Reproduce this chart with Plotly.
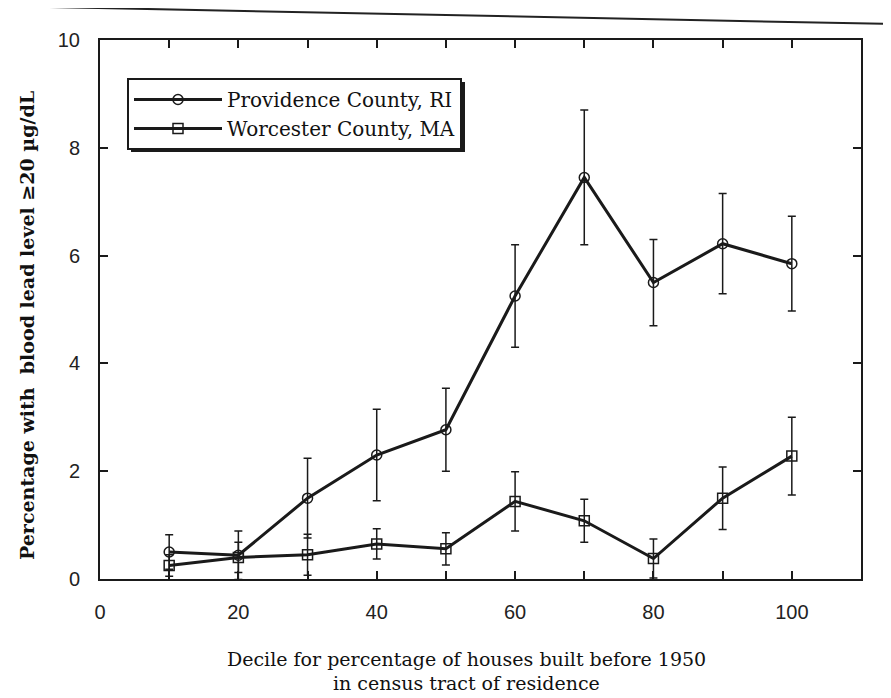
import plotly.graph_objects as go

deciles = [10, 20, 30, 40, 50, 60, 70, 80, 90, 100]
providence = [0.50, 0.44, 1.50, 2.30, 2.77, 5.25, 7.45, 5.50, 6.22, 5.85]
providence_err = [0.32, 0.45, 0.74, 0.85, 0.77, 0.95, 1.25, 0.80, 0.93, 0.88]
worcester = [0.25, 0.40, 0.45, 0.65, 0.56, 1.44, 1.08, 0.38, 1.50, 2.28]
worcester_err = [0.20, 0.28, 0.38, 0.28, 0.30, 0.55, 0.40, 0.36, 0.58, 0.72]
x_tick_vals = [0, 10, 20, 30, 40, 50, 60, 70, 80, 90, 100]
x_tick_text = ["0", "", "20", "", "40", "", "60", "", "80", "", "100"]
y_tick_vals = [0, 2, 4, 6, 8, 10]

serif = "DejaVu Serif, serif"
sans = "Liberation Sans, Arial, sans-serif"
ink = "#1a1a1a"

# the page body has an 8px margin, so the figure is drawn 8px smaller
OFF = 8
W, H = 891 - OFF, 698 - OFF
# plot area in window pixels: x 100..861, y 40..579
X0, X1, Y0, Y1 = 100, 861, 40, 579
ML, MR, MT, MB = X0 - OFF, W - (X1 - OFF), Y0 - OFF, H - (Y1 - OFF)
PW, PH = X1 - X0, Y1 - Y0


def px(x):
    return (x - X0) / PW


def py(y):
    return (Y1 - y) / PH


fig = go.Figure()
fig.add_trace(go.Scatter(
    x=deciles, y=providence, name="Providence County, RI",
    mode="lines+markers",
    line=dict(color=ink, width=3),
    marker=dict(symbol="circle-open", size=10, color=ink, line=dict(width=1.5)),
    error_y=dict(type="data", array=providence_err, color=ink, thickness=1.5, width=4),
))
fig.add_trace(go.Scatter(
    x=deciles, y=worcester, name="Worcester County, MA",
    mode="lines+markers",
    line=dict(color=ink, width=3),
    marker=dict(symbol="square-open", size=10, color=ink, line=dict(width=1.5)),
    error_y=dict(type="data", array=worcester_err, color=ink, thickness=1.5, width=4),
))

axis_common = dict(
    showline=True, linecolor=ink, linewidth=2, mirror="allticks",
    ticks="inside", ticklen=8, tickwidth=1.5, tickcolor=ink,
    showgrid=False, zeroline=False, automargin=False,
    tickfont=dict(family=sans, size=20, color="#222"),
)

fig.update_layout(
    width=W, height=H,
    margin=dict(l=ML, r=MR, t=MT, b=MB),
    paper_bgcolor="white", plot_bgcolor="white",
    xaxis=dict(range=[0, 110], tickvals=x_tick_vals, ticktext=x_tick_text,
               ticklabelstandoff=14, **axis_common),
    yaxis=dict(range=[0, 10], tickvals=y_tick_vals,
               ticklabelstandoff=14, **axis_common),
    showlegend=True,
    legend=dict(x=px(127), y=py(78), xanchor="left", yanchor="top",
                bgcolor="white", bordercolor=ink, borderwidth=2,
                font=dict(family=serif, size=20, color="#111"),
                tracegroupgap=0, itemwidth=88),
    annotations=[
        dict(text="Decile for percentage of houses built before 1950",
             xref="paper", yref="paper", x=px(466), y=py(659), xanchor="center", yanchor="middle",
             showarrow=False, font=dict(family=serif, size=19, color="#111")),
        dict(text="in census tract of residence",
             xref="paper", yref="paper", x=px(466), y=py(683), xanchor="center", yanchor="middle",
             showarrow=False, font=dict(family=serif, size=19, color="#111")),
        dict(text="<b>Percentage with  blood lead level ≥20 µg/dL</b>",
             xref="paper", yref="paper", x=px(27), y=py(326), xanchor="center", yanchor="middle",
             textangle=-90, showarrow=False, font=dict(family=serif, size=19, color="#111")),
    ],
    shapes=[
        dict(type="line", xref="paper", yref="paper", x0=px(0), y0=py(6), x1=px(891), y1=py(24),
             line=dict(color="#222", width=2)),
        dict(type="rect", xref="paper", yref="paper", x0=px(131), y0=py(82), x1=px(465), y1=py(152),
             line=dict(width=0), fillcolor=ink, layer="above"),
    ],
)

fig.write_html("out.html")
